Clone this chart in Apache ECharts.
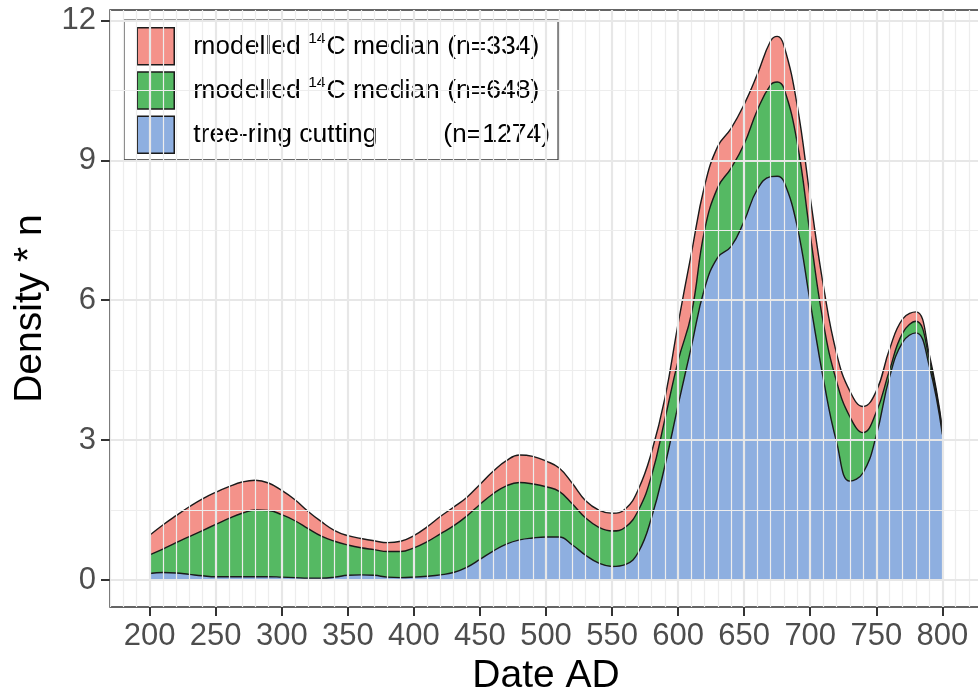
<!DOCTYPE html>
<html><head><meta charset="utf-8">
<script src="https://cdn.jsdelivr.net/npm/echarts@6/dist/echarts.min.js"></script>
<style>html,body{margin:0;padding:0;background:#fff}#c{width:978px;height:698px}</style>
</head><body><div id="c"></div><script>
// ---- data (cumulative tops) ----
const years = [200,210,220,230,240,250,260,270,280,290,300,310,320,330,340,350,360,370,380,390,400,410,420,430,440,450,460,470,480,490,500,510,520,530,540,550,560,570,580,590,600,610,620,630,640,650,660,670,675,680,690,700,710,720,730,740,750,760,770,780,790,800];
const treeRingTop = [0.14,0.16,0.15,0.12,0.09,0.07,0.07,0.07,0.07,0.07,0.06,0.05,0.04,0.04,0.06,0.10,0.11,0.10,0.06,0.05,0.06,0.08,0.11,0.16,0.27,0.44,0.62,0.77,0.86,0.90,0.92,0.92,0.75,0.53,0.36,0.29,0.33,0.6,1.35,2.45,3.75,5.0,6.25,6.92,7.15,7.7,8.38,8.65,8.66,8.55,7.6,5.95,4.3,2.95,2.12,2.3,3.1,4.35,5.1,5.3,4.6,3.12];
const median648Top = [0.54,0.66,0.80,0.93,1.06,1.19,1.32,1.43,1.50,1.49,1.40,1.27,1.10,0.94,0.83,0.75,0.69,0.65,0.61,0.61,0.69,0.82,0.99,1.16,1.37,1.62,1.85,2.02,2.09,2.06,2.0,1.90,1.63,1.33,1.13,1.05,1.13,1.5,2.25,3.45,4.7,5.7,7.5,8.42,8.83,9.35,10.08,10.62,10.68,10.55,9.4,7.4,5.5,4.25,3.5,3.16,3.6,4.5,5.3,5.55,4.75,3.18];
const median334Top = [0.96,1.18,1.38,1.57,1.74,1.88,2.0,2.1,2.14,2.08,1.92,1.72,1.47,1.25,1.06,0.95,0.89,0.84,0.80,0.83,0.95,1.14,1.36,1.56,1.77,2.05,2.33,2.56,2.68,2.65,2.55,2.4,2.07,1.7,1.5,1.43,1.52,1.95,2.75,3.9,5.5,7.0,8.45,9.3,9.68,10.2,10.85,11.56,11.66,11.47,10.2,8.2,6.3,4.85,4.05,3.72,4.05,4.95,5.6,5.75,4.85,3.25];
const xTickLabels = [200,250,300,350,400,450,500,550,600,650,700,750,800];
const yTickLabels = [0,3,6,9,12];
const seriesNames = ['modelled 14C median (n=334)','modelled 14C median (n=648)','tree-ring cutting (n=1274)'];

const pairs = arr => years.map((x,i) => [x, arr[i]]);
const FONT = '"Liberation Sans", Arial, Helvetica, sans-serif';
const COLORS = {red:'#F4928A', green:'#55B963', blue:'#8EAFE0'};
const LINE = '#1a1a1a';
const X0 = 170, X1 = 830, Y0 = -0.58, Y1 = 12.225;

// grid lines (drawn under the areas) and a faint copy over them (ggplot alpha look)
const gridLines = [], gridOver = [];
const vLine = (x, style) => [{coord:[x, Y0], lineStyle:style}, {coord:[x, Y1]}];
const hLine = (y, style) => [{coord:[X0, y], lineStyle:style}, {coord:[X1, y]}];
const OVER = 'rgba(255,255,255,0.05)';
for (let x = X0; x <= X1; x += 10) {
  const major = x % 50 === 0;
  gridLines.push(vLine(x, {color: major ? '#e6e6e6' : '#ececec', width: major ? 2.2 : 1.2, type:'solid'}));
  gridOver.push(vLine(x, {color: OVER, width: major ? 2.2 : 1.2, type:'solid'}));
}
[1.5,4.5,7.5,10.5].forEach(y => {
  gridLines.push(hLine(y, {color:'#ececec', width:1.2, type:'solid'}));
  gridOver.push(hLine(y, {color:OVER, width:1.2, type:'solid'}));
});
yTickLabels.forEach(y => {
  gridLines.push(hLine(y, {color:'#e6e6e6', width:2.2, type:'solid'}));
  gridOver.push(hLine(y, {color:OVER, width:2.2, type:'solid'}));
});

const areaSeries = (name, data, color, z) => ({
  name, type:'line', data: pairs(data), smooth:0.45, symbol:'none', showSymbol:false,
  lineStyle:{color:LINE, width:1.4}, itemStyle:{color}, areaStyle:{color, opacity:1, origin:0}, z, animation:false
});

const chart = echarts.init(document.getElementById('c'), null, {renderer:'canvas'});
chart.setOption({
  backgroundColor:'#fff',
  animation:false,
  grid:{left:110, right:-4, top:10, bottom:91, show:true, borderColor:'#333', borderWidth:1.4, backgroundColor:'transparent', outerBoundsMode:'none', containLabel:false},
  xAxis:{type:'value', min:X0, max:X1,
    name:'Date AD', nameLocation:'middle', nameGap:47,
    nameTextStyle:{fontFamily:FONT, fontSize:39, color:'#000'},
    axisLine:{show:false, onZero:false},
    axisTick:{show:true, length:9, customValues:xTickLabels, lineStyle:{color:'#333', width:2}},
    minorTick:{show:false},
    axisLabel:{customValues:xTickLabels, margin:14, fontFamily:FONT, fontSize:31, color:'#4d4d4d'},
    splitLine:{show:false}, minorSplitLine:{show:false}},
  yAxis:{type:'value', min:Y0, max:Y1,
    name:'Density * n', nameLocation:'middle', nameGap:60,
    nameTextStyle:{fontFamily:FONT, fontSize:39, color:'#000'},
    axisLine:{show:false, onZero:false},
    axisTick:{show:true, length:9, customValues:yTickLabels, lineStyle:{color:'#333', width:2}},
    minorTick:{show:false},
    axisLabel:{customValues:yTickLabels, margin:14, fontFamily:FONT, fontSize:31, color:'#4d4d4d'},
    splitLine:{show:false}, minorSplitLine:{show:false}},
  legend:{
    orient:'vertical', left:124, top:20, itemWidth:37, itemHeight:37, itemGap:5.7,
    padding:[7,8,6,12.5], icon:'rect', borderColor:'#333', borderWidth:1.2, backgroundColor:'#fff',
    selectedMode:false,
    data: seriesNames.map(n => ({name:n, itemStyle:{borderColor:LINE, borderWidth:1.5}})),
    formatter: name => {
      if (name === seriesNames[0]) return '{g|}{a|modelled }{s|14}{a|C median (n=334)}';
      if (name === seriesNames[1]) return '{g|}{a|modelled }{s|14}{a|C median (n=648)}';
      return '{g|}{w|tree-ring cutting}{a|(n=1274)}';
    },
    textStyle:{fontFamily:FONT, fontSize:26.5, color:'#000',
      rich:{
        g:{width:14},
        a:{fontFamily:FONT, fontSize:26.5, color:'#000', lineHeight:32},
        w:{fontFamily:FONT, fontSize:26.5, color:'#000', lineHeight:32, width:250},
        s:{fontFamily:FONT, fontSize:15.5, color:'#000', verticalAlign:'top', lineHeight:32, padding:[0,1,0,0]}
      }}
  },
  series:[
    {type:'line', data:[], z:1, silent:true, animation:false,
     markLine:{silent:true, symbol:['none','none'], label:{show:false}, animation:false, data:gridLines}},
    areaSeries(seriesNames[0], median334Top, COLORS.red, 2),
    areaSeries(seriesNames[1], median648Top, COLORS.green, 3),
    areaSeries(seriesNames[2], treeRingTop, COLORS.blue, 4),
    {type:'line', data:[], z:5, silent:true, animation:false,
     markLine:{silent:true, symbol:['none','none'], label:{show:false}, animation:false, data:gridOver}}
  ]
});
</script></body></html>
